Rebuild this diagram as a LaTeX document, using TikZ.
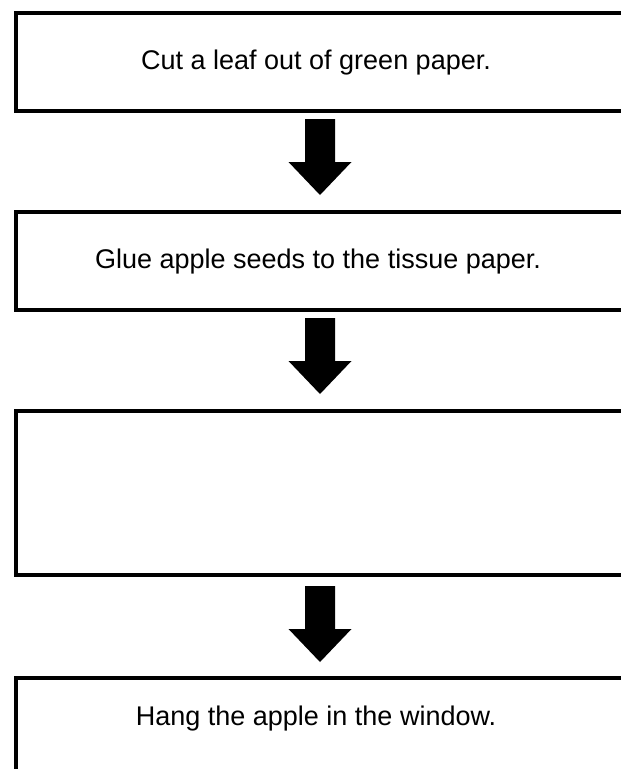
\documentclass[tikz,border=0pt]{standalone}
\usepackage{fontspec}
\setmainfont{Liberation Sans}
\begin{document}
\begin{tikzpicture}[x=1pt,y=-1pt,
  box/.style={draw=black,line width=4pt,fill=white,inner sep=0pt,anchor=north west},
  lbl/.style={font=\fontsize{27}{32}\selectfont,anchor=center,inner sep=0pt},
  fatarrow/.pic={\fill[black] (-15,0) -- (15,0) -- (15,43) -- (31.5,43) -- (0,76) -- (-31.5,43) -- (-15,43) -- cycle;}]
\useasboundingbox (0,0) rectangle (621,769);
\clip (0,0) rectangle (621,769);
\fill[white] (0,0) rectangle (621,769);
\node[box,minimum width=640pt,minimum height=98pt] (b1) at (14,11) {};
\node[box,minimum width=640pt,minimum height=98pt] (b2) at (14,210) {};
\node[box,minimum width=640pt,minimum height=164pt] (b3) at (14,409) {};
\node[box,minimum width=640pt,minimum height=140pt] (b4) at (14,676) {};
\node[lbl] (t1) at (316,63) {Cut a leaf out of green paper.};
\node[lbl] (t2) at (318,262) {Glue apple seeds to the tissue paper.};
\node[lbl] (t4) at (316,719) {Hang the apple in the window.};
\pic at (320,119) {fatarrow};
\pic at (320,318) {fatarrow};
\pic at (320,586) {fatarrow};
\end{tikzpicture}
\end{document}
